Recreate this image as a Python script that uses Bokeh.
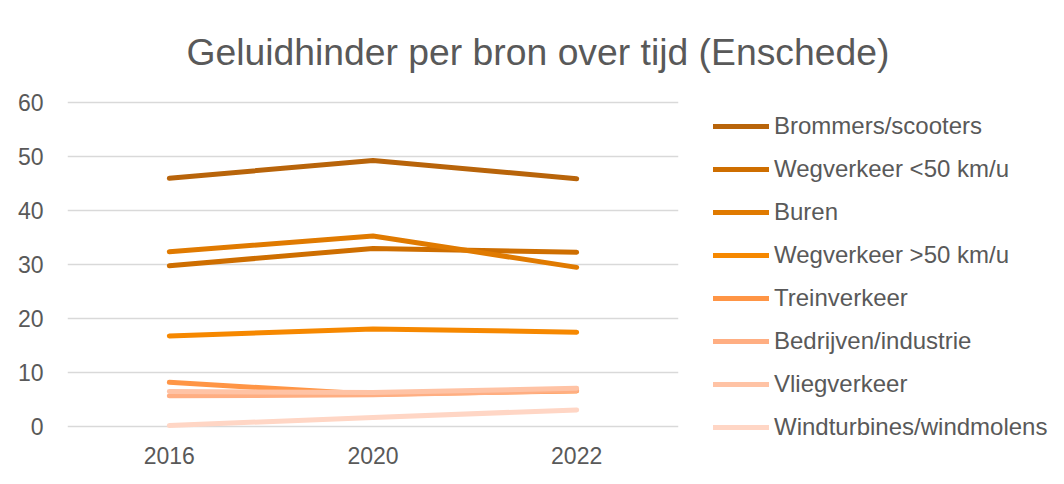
from bokeh.plotting import figure
from bokeh.models import Range1d, FactorRange, Legend, LegendItem, Title, ColumnDataSource
from bokeh.embed import file_html
from bokeh.resources import INLINE

years = ["2016", "2020", "2022"]
series_names = [
    "Brommers/scooters",
    "Wegverkeer <50 km/u",
    "Buren",
    "Wegverkeer >50 km/u",
    "Treinverkeer",
    "Bedrijven/industrie",
    "Vliegverkeer",
    "Windturbines/windmolens",
]
brommers = [45.9, 49.2, 45.8]
wegverkeer_lt50 = [29.7, 32.9, 32.2]
buren = [32.3, 35.2, 29.4]
wegverkeer_gt50 = [16.7, 18.0, 17.4]
trein = [8.1, 5.9, 6.5]
bedrijven = [5.6, 5.8, 6.6]
vlieg = [6.4, 6.2, 7.0]
wind = [0.1, 1.6, 3.0]
values = [brommers, wegverkeer_lt50, buren, wegverkeer_gt50, trein, bedrijven, vlieg, wind]
colors = ["#B8640A", "#CE6E00", "#E07A00", "#F68800", "#FF9545", "#FFAE82", "#FFC3A5", "#FFD6C5"]

TEXT = "#595959"
FONT = "Liberation Sans"

p = figure(
    frame_width=611, frame_height=331,
    x_range=FactorRange(*years, range_padding=0),
    y_range=Range1d(-1, 60.3),
    output_backend="svg", toolbar_location=None,
    min_border_left=67, min_border_right=370, min_border_top=99, min_border_bottom=38,
)
p.outline_line_color = None
p.background_fill_color = "white"
p.border_fill_color = "white"

t = Title(text="Geluidhinder per bron over tijd (Enschede)", align="left", offset=119,
          text_font=FONT, text_font_size="37.3px", text_font_style="normal",
          text_color=TEXT, standoff=56)
p.add_layout(t, "above")

p.yaxis.ticker = [0, 10, 20, 30, 40, 50, 60]
p.yaxis.axis_line_color = None
p.yaxis.major_tick_line_color = None
p.yaxis.minor_tick_line_color = None
p.yaxis.major_label_standoff = 18
p.yaxis.major_label_text_font = FONT
p.yaxis.major_label_text_font_size = "23px"
p.yaxis.major_label_text_color = TEXT

p.xaxis.axis_line_color = None
p.xaxis.major_tick_line_color = None
p.xaxis.major_label_standoff = 9
p.xaxis.major_label_text_font = FONT
p.xaxis.major_label_text_font_size = "23px"
p.xaxis.major_label_text_color = TEXT

p.xgrid.grid_line_color = None
p.ygrid.grid_line_color = "#d9d9d9"
p.ygrid.grid_line_width = 1.5

items = []
for name, vals, c in zip(series_names, values, colors):
    src = ColumnDataSource(dict(x=years, y=vals))
    r = p.line("x", "y", source=src, line_color=c, line_width=5,
               line_cap="round", line_join="round")
    items.append(LegendItem(label=name, renderers=[r]))

legend = Legend(items=items, location=(35, -10), orientation="vertical",
                padding=0, margin=0, border_line_color=None, background_fill_alpha=0,
                glyph_width=56, glyph_height=24, label_height=24, spacing=15,
                label_standoff=5, label_text_font=FONT, label_text_font_size="24px",
                label_text_color=TEXT)
p.add_layout(legend, "right")

open("out.html", "w").write(file_html(p, INLINE))
